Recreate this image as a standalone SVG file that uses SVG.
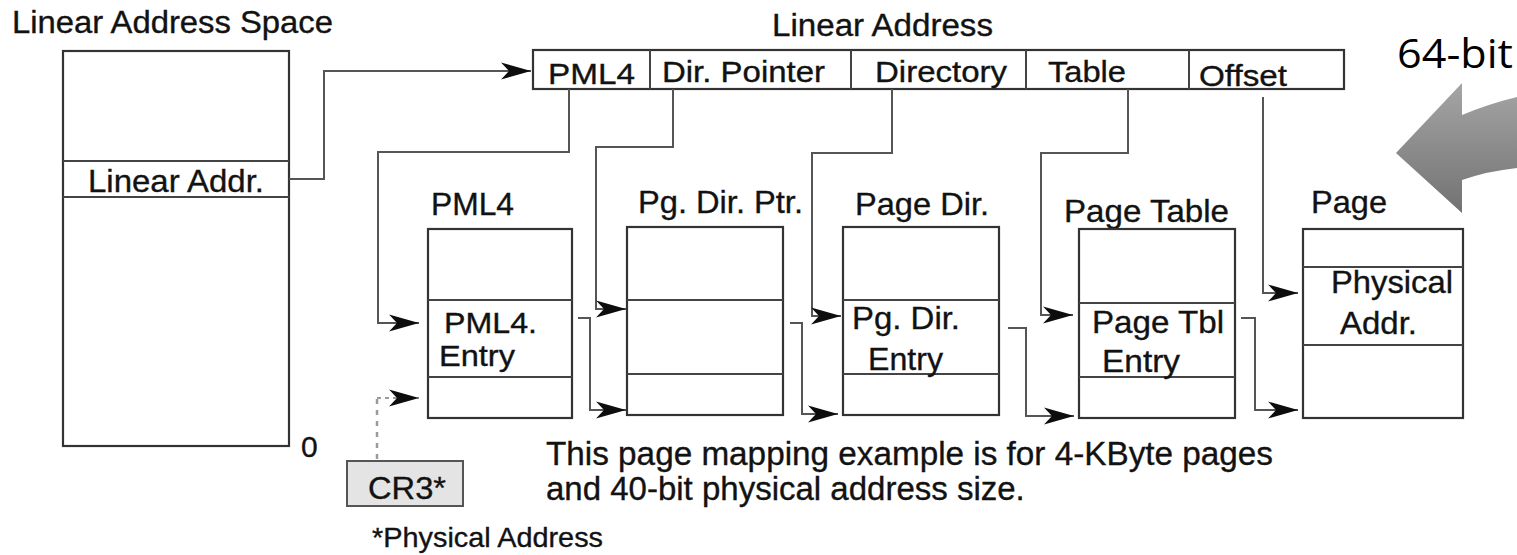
<svg xmlns="http://www.w3.org/2000/svg" width="1517" height="555" viewBox="0 0 1517 555">
<style>
  text { font-family: "Liberation Sans", Arial, Helvetica, sans-serif; fill: #121212; stroke: #121212; stroke-width: 0.35; font-size: 32px; }
  .box { fill: #ffffff; stroke: #333333; stroke-width: 2.2; }
  .div { stroke: #444444; stroke-width: 2; fill: none; }
  .conn { fill: none; stroke: #555555; stroke-width: 2; marker-end: url(#ah); }
  .dot { fill: none; stroke: #9a9a9a; stroke-width: 2.5; stroke-dasharray: 5 6; }
  .fld { font-size: 30px; }
  .t31 { font-size: 31px; }
  .t28 { font-size: 28px; }
  .t33 { font-size: 33px; }
  .t30 { font-size: 30px; }
  .t29 { font-size: 29px; }
  .big { font-family: "Open Sans", "Noto Sans", sans-serif; font-size: 40px; fill: #000; stroke: none; }
</style>
<defs>
  <marker id="ah" markerUnits="userSpaceOnUse" markerWidth="34" markerHeight="22" viewBox="-1 -10 34 20" refX="30" refY="0" orient="auto">
    <path d="M0,-8.5 L30,0 L0,8.5 L8,0 Z" fill="#0d0d0d"/>
  </marker>
  <linearGradient id="gg" x1="0" y1="0" x2="0" y2="1">
    <stop offset="0" stop-color="#a5a5a5"/>
    <stop offset="1" stop-color="#727272"/>
  </linearGradient>
</defs>

<!-- Linear address space -->
<g id="linear-address-space">
  <text class="t31" x="12" y="33" textLength="321" lengthAdjust="spacingAndGlyphs">Linear Address Space</text>
  <rect class="box" x="63" y="51" width="226" height="395"/>
  <line class="div" x1="63" y1="161" x2="289" y2="161"/>
  <line class="div" x1="63" y1="197" x2="289" y2="197"/>
  <text x="88" y="192" textLength="176" lengthAdjust="spacingAndGlyphs">Linear Addr.</text>
  <text class="t30" x="301" y="457">0</text>
</g>

<!-- Linear address bar -->
<g id="linear-address">
  <text class="t31" x="772" y="36" textLength="221" lengthAdjust="spacingAndGlyphs">Linear Address</text>
  <rect class="box" x="533" y="50" width="811" height="39"/>
  <line class="div" x1="650" y1="50" x2="650" y2="89"/>
  <line class="div" x1="851" y1="50" x2="851" y2="89"/>
  <line class="div" x1="1026" y1="50" x2="1026" y2="89"/>
  <line class="div" x1="1189" y1="50" x2="1189" y2="89"/>
  <text class="fld" x="548" y="84" textLength="87" lengthAdjust="spacingAndGlyphs">PML4</text>
  <text class="fld" x="662" y="82" textLength="163" lengthAdjust="spacingAndGlyphs">Dir. Pointer</text>
  <text class="fld" x="875" y="82" textLength="132" lengthAdjust="spacingAndGlyphs">Directory</text>
  <text class="fld" x="1048" y="82" textLength="78" lengthAdjust="spacingAndGlyphs">Table</text>
  <text class="fld" x="1199" y="86" textLength="88" lengthAdjust="spacingAndGlyphs">Offset</text>
</g>

<!-- 64-bit callout -->
<g id="callout-64bit">
  <text class="big" x="1397" y="68" textLength="116" lengthAdjust="spacingAndGlyphs">64-bit</text>
  <path d="M1396,153 L1462,83 L1462,115 Q1488,104 1517,97 L1517,168 Q1488,171 1462,180 L1462,213 Z" fill="url(#gg)"/>
</g>

<!-- PML4 table -->
<g id="pml4">
  <text x="431" y="215" textLength="83" lengthAdjust="spacingAndGlyphs">PML4</text>
  <rect class="box" x="428" y="229" width="144" height="189"/>
  <line class="div" x1="428" y1="300" x2="572" y2="300"/>
  <line class="div" x1="428" y1="377" x2="572" y2="377"/>
  <text class="t29"><tspan x="444" y="333" textLength="93" lengthAdjust="spacingAndGlyphs">PML4.</tspan><tspan x="439" y="366" textLength="76" lengthAdjust="spacingAndGlyphs">Entry</tspan></text>
</g>

<!-- Page directory pointer table -->
<g id="pg-dir-ptr">
  <text x="638" y="213" textLength="165" lengthAdjust="spacingAndGlyphs">Pg. Dir. Ptr.</text>
  <rect class="box" x="627" y="227" width="156" height="188"/>
  <line class="div" x1="627" y1="300" x2="783" y2="300"/>
  <line class="div" x1="627" y1="374" x2="783" y2="374"/>
</g>

<!-- Page directory -->
<g id="page-dir">
  <text x="855" y="215" textLength="134" lengthAdjust="spacingAndGlyphs">Page Dir.</text>
  <rect class="box" x="843" y="227" width="156" height="188"/>
  <line class="div" x1="843" y1="300" x2="999" y2="300"/>
  <line class="div" x1="843" y1="374" x2="999" y2="374"/>
  <text><tspan x="852" y="329" textLength="108" lengthAdjust="spacingAndGlyphs">Pg. Dir.</tspan><tspan x="868" y="370" textLength="75" lengthAdjust="spacingAndGlyphs">Entry</tspan></text>
</g>

<!-- Page table -->
<g id="page-table">
  <text x="1064" y="222" textLength="165" lengthAdjust="spacingAndGlyphs">Page Table</text>
  <rect class="box" x="1079" y="229" width="156" height="189"/>
  <line class="div" x1="1079" y1="303" x2="1235" y2="303"/>
  <line class="div" x1="1079" y1="377" x2="1235" y2="377"/>
  <text><tspan x="1092" y="333" textLength="132" lengthAdjust="spacingAndGlyphs">Page Tbl</tspan><tspan x="1102" y="372" textLength="78" lengthAdjust="spacingAndGlyphs">Entry</tspan></text>
</g>

<!-- Page -->
<g id="page">
  <text x="1311" y="213" textLength="76" lengthAdjust="spacingAndGlyphs">Page</text>
  <rect class="box" x="1303" y="229" width="160" height="189"/>
  <line class="div" x1="1303" y1="267" x2="1463" y2="267"/>
  <line class="div" x1="1303" y1="345" x2="1463" y2="345"/>
  <text><tspan x="1331" y="293" textLength="122" lengthAdjust="spacingAndGlyphs">Physical</tspan><tspan x="1340" y="334" textLength="77" lengthAdjust="spacingAndGlyphs">Addr.</tspan></text>
</g>

<!-- CR3 -->
<g id="cr3">
  <rect x="347" y="461" width="116" height="45" fill="#e4e4e4" stroke="#555" stroke-width="2"/>
  <text x="368" y="499" textLength="78" lengthAdjust="spacingAndGlyphs">CR3*</text>
  <text class="t28" x="372" y="547" textLength="231" lengthAdjust="spacingAndGlyphs">*Physical Address</text>
</g>

<!-- Note -->
<g id="note">
  <text class="t33"><tspan x="546" y="465" textLength="727" lengthAdjust="spacingAndGlyphs">This page mapping example is for 4-KByte pages</tspan><tspan x="546" y="500">and 40-bit physical address size.</tspan></text>
</g>

<!-- Connectors -->
<g id="connectors">
  <polyline class="conn" points="289,179 324,179 324,71 531,71"/>
  <polyline class="conn" points="569,89 569,152 378,152 378,323 419,323"/>
  <polyline class="conn" points="673,89 673,147 596,147 596,309 626,309"/>
  <polyline class="conn" points="892,89 892,153 812,153 812,316 841,316"/>
  <polyline class="conn" points="1128,89 1128,153 1041,153 1041,315 1073,315"/>
  <polyline class="conn" points="1263,97 1263,293 1298,293"/>
  <polyline class="conn" points="578,318 590,318 590,410 626,410"/>
  <polyline class="conn" points="790,323 802,323 802,414 838,414"/>
  <polyline class="conn" points="1008,328 1026,328 1026,416 1074,416"/>
  <polyline class="conn" points="1241,318 1255,318 1255,410 1298,410"/>
  <line class="dot" x1="377" y1="459" x2="377" y2="398"/>
  <polyline class="conn" points="377,398 419,398" style="stroke:#9a9a9a;stroke-dasharray:4 4"/>
</g>
</svg>
